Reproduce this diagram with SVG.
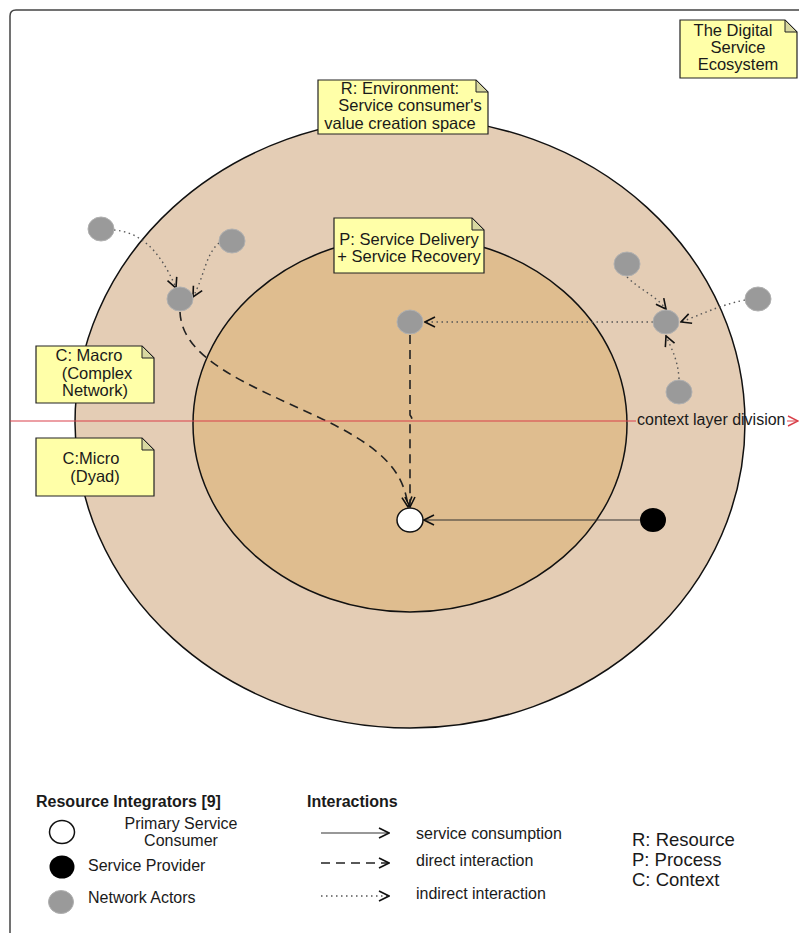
<svg xmlns="http://www.w3.org/2000/svg" width="799" height="933" viewBox="0 0 799 933">
  <style>
    text { font-family: "Liberation Sans", Arial, sans-serif; fill: #1a1a1a; }
    .note path.body { fill: #ffffa8; stroke: #222; stroke-width: 1.2; }
    .note .fold { fill: #d8d8a0; stroke: #222; stroke-width: 1; }
    .note text { font-size: 16.5px; text-anchor: middle; }
    .actor { fill: #9a9a9a; stroke: #b0b0b0; stroke-width: 1; }
    .dotted { fill: none; stroke: #555; stroke-width: 1.4; stroke-dasharray: 1.5 3.5; }
    .dashed { fill: none; stroke: #222; stroke-width: 1.6; stroke-dasharray: 9 6; }
    .solid { fill: none; stroke: #333; stroke-width: 1.2; }
    .legend { font-size: 16px; }
    .head { font-size: 16px; font-weight: bold; }
    .abbr { font-size: 18.5px; }
  </style>
  <defs>
    <marker id="open" viewBox="0 0 12 12" refX="11" refY="6" markerWidth="12" markerHeight="12" markerUnits="userSpaceOnUse" orient="auto">
      <path d="M1,1 L11,6 L1,11" fill="none" stroke="#111" stroke-width="1.6"/>
    </marker>
    <marker id="openRed" viewBox="0 0 12 12" refX="11" refY="6" markerWidth="12" markerHeight="12" markerUnits="userSpaceOnUse" orient="auto">
      <path d="M1,1 L11,6 L1,11" fill="none" stroke="#d9404a" stroke-width="1.4"/>
    </marker>
  </defs>

  <rect width="799" height="933" fill="#ffffff"/>
  <!-- outer frame -->
  <path d="M10,940 L10,16 Q10,10 16,10 L810,10" fill="none" stroke="#444" stroke-width="1.5"/>

  <!-- layers -->
  <g id="layer-resource">
    <ellipse cx="410" cy="423" rx="335" ry="305" fill="#e4cdb5" stroke="#111" stroke-width="1.5"/>
  </g>
  <g id="layer-process">
    <ellipse cx="410" cy="424" rx="217" ry="188" fill="#dfbd8f" stroke="#111" stroke-width="1.5"/>
  </g>

  <!-- connectors -->
  <g id="connectors">
    <path class="dotted" d="M114,230 C140,232 160,250 176,288" marker-end="url(#open)"/>
    <path class="dotted" d="M219,243 C205,255 205,275 193,297" marker-end="url(#open)"/>
    <path class="dashed" d="M180,312 C182,360 250,385 318,417 C380,446 404,470 408,507" marker-end="url(#open)"/>
    <path class="dashed" d="M410,335 L410,415 Q414,420 410,424 L410,507" marker-end="url(#open)"/>
    <path class="dotted" d="M653,322 L425,322" marker-end="url(#open)"/>
    <path class="dotted" d="M627,277 C640,290 655,295 666,309" marker-end="url(#open)"/>
    <path class="dotted" d="M745,300 C720,305 700,315 681,322" marker-end="url(#open)"/>
    <path class="dotted" d="M679,379 C678,360 672,350 666,336" marker-end="url(#open)"/>
    <path class="solid" d="M640,520 L424,520" marker-end="url(#open)"/>
    <path d="M10,421 L636,421 M787,421 L798,421" fill="none" stroke="#d9404a" stroke-width="1.2" marker-end="url(#openRed)"/>
    <text x="637" y="425" font-size="16">context layer division</text>
  </g>

  <!-- actors -->
  <g id="actor-1"><ellipse class="actor" cx="101" cy="229" rx="13" ry="12"/></g>
  <g id="actor-2"><ellipse class="actor" cx="232" cy="241" rx="13" ry="12"/></g>
  <g id="actor-3"><ellipse class="actor" cx="180" cy="299" rx="13" ry="12"/></g>
  <g id="actor-4"><ellipse class="actor" cx="410" cy="322" rx="13" ry="12"/></g>
  <g id="actor-5"><ellipse class="actor" cx="627" cy="264" rx="13" ry="12"/></g>
  <g id="actor-6"><ellipse class="actor" cx="666" cy="322" rx="13" ry="12"/></g>
  <g id="actor-7"><ellipse class="actor" cx="758" cy="299" rx="13" ry="12"/></g>
  <g id="actor-8"><ellipse class="actor" cx="679" cy="392" rx="13" ry="12"/></g>
  <g id="consumer"><ellipse cx="410" cy="520" rx="13" ry="12" fill="#fff" stroke="#111" stroke-width="1.5"/></g>
  <g id="provider"><ellipse cx="653" cy="520" rx="13" ry="12" fill="#000"/></g>

  <!-- notes -->
  <g id="note-ecosystem" class="note">
    <path class="body" d="M680,20 L785,20 L797,32 L797,78 L680,78 Z"/>
    <path class="fold" d="M785,20 L785,32 L797,32 Z"/>
    <text x="733" y="36">The Digital</text>
    <text x="738" y="53">Service</text>
    <text x="738" y="70">Ecosystem</text>
  </g>
  <g id="note-resource" class="note">
    <path class="body" d="M318,80 L476,80 L488,92 L488,134 L318,134 Z"/>
    <path class="fold" d="M476,80 L476,92 L488,92 Z"/>
    <text x="400" y="94">R: Environment:</text>
    <text x="410" y="111">Service consumer's</text>
    <text x="400" y="129">value creation space</text>
  </g>
  <g id="note-process" class="note">
    <path class="body" d="M334,218 L472,218 L484,230 L484,273 L334,273 Z"/>
    <path class="fold" d="M472,218 L472,230 L484,230 Z"/>
    <text x="409" y="245">P: Service Delivery</text>
    <text x="409" y="262">+ Service Recovery</text>
  </g>
  <g id="note-macro" class="note">
    <path class="body" d="M36,346 L142,346 L154,358 L154,403 L36,403 Z"/>
    <path class="fold" d="M142,346 L142,358 L154,358 Z"/>
    <text x="89" y="361">C: Macro</text>
    <text x="97" y="379">(Complex</text>
    <text x="95" y="396">Network)</text>
  </g>
  <g id="note-micro" class="note">
    <path class="body" d="M36,438 L142,438 L154,450 L154,496 L36,496 Z"/>
    <path class="fold" d="M142,438 L142,450 L154,450 Z"/>
    <text x="91" y="464">C:Micro</text>
    <text x="95" y="482">(Dyad)</text>
  </g>

  <!-- legend -->
  <g id="legend">
    <text class="head" x="36" y="807">Resource Integrators [9]</text>
    <ellipse cx="62" cy="832" rx="12.5" ry="11.5" fill="#fff" stroke="#111" stroke-width="1.5"/>
    <text class="legend" x="181" y="829" text-anchor="middle">Primary Service</text>
    <text class="legend" x="181" y="846" text-anchor="middle">Consumer</text>
    <ellipse cx="62" cy="867" rx="12.5" ry="11.5" fill="#000"/>
    <text class="legend" x="88" y="871">Service Provider</text>
    <ellipse cx="61" cy="902" rx="12.5" ry="11.5" fill="#9a9a9a" stroke="#b0b0b0"/>
    <text class="legend" x="88" y="903">Network Actors</text>

    <text class="head" x="307" y="807">Interactions</text>
    <path class="solid" d="M321,833 L389,833" marker-end="url(#open)"/>
    <path class="dashed" d="M321,863 L389,863" stroke-dasharray="9 8" marker-end="url(#open)"/>
    <path class="dotted" d="M321,896 L389,896" stroke-width="1" stroke-dasharray="1 2.5" marker-end="url(#open)"/>
    <text class="legend" x="416" y="839">service consumption</text>
    <text class="legend" x="416" y="866">direct interaction</text>
    <text class="legend" x="416" y="899">indirect interaction</text>

    <text class="abbr" x="632" y="846">R: Resource</text>
    <text class="abbr" x="632" y="866">P: Process</text>
    <text class="abbr" x="632" y="886">C: Context</text>
  </g>
</svg>
